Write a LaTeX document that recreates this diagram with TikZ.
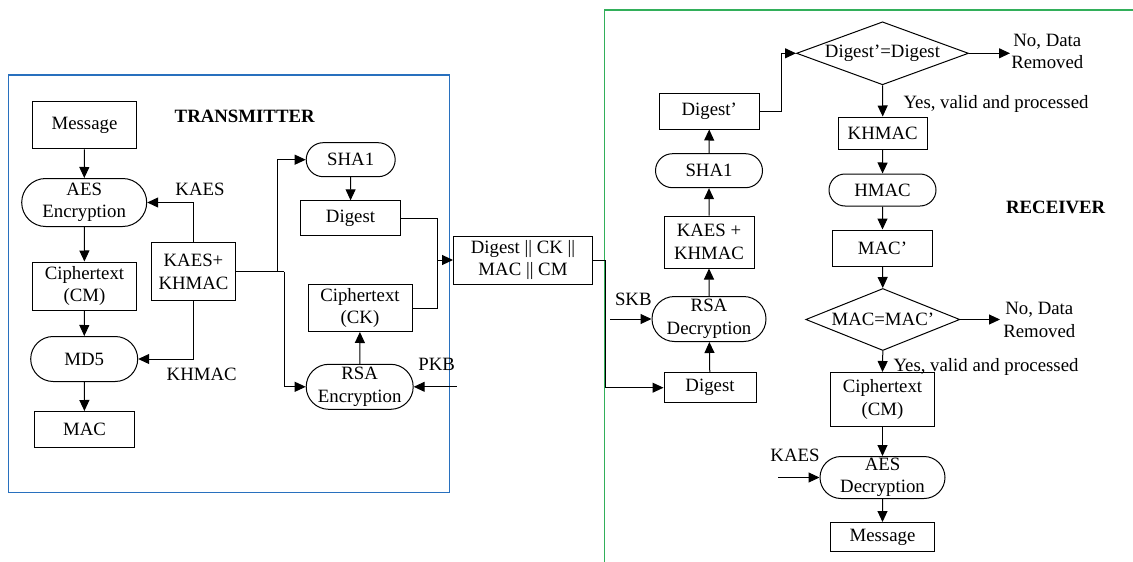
\documentclass[tikz,border=0pt]{standalone}
\usepackage{fontspec}
\setmainfont{Liberation Serif}
\usetikzlibrary{arrows.meta,shapes.misc,shapes.geometric}
\definecolor{txblue}{RGB}{40,112,190}
\definecolor{rxgreen}{RGB}{50,175,90}
\begin{document}
\begin{tikzpicture}[x=1pt,y=-1pt,
  every node/.style={font=\fontsize{18.8}{22.5}\selectfont, inner sep=0pt, align=center},
  boxn/.style={draw, line width=1pt, rectangle, minimum width=#1},
  stad/.style={draw, line width=1pt, rounded rectangle, minimum width=#1},
  dia/.style={draw, line width=1pt, diamond, aspect=2.6},
  arr/.style={line width=1pt, -{Triangle[length=11pt,width=10pt]}},
  ln/.style={line width=1pt}]
\useasboundingbox (0,0) rectangle (1133,562);
% frames
\draw[txblue, line width=1.3pt] (8.3,75) rectangle (449.3,492.7);
\draw[rxgreen, line width=1.3pt] (604.3,562) -- (604.3,10) -- (1133,10);
% transmitter
\node[font=\fontsize{18.8}{22.5}\selectfont\bfseries] (ttl) at (244.7,116.7) {TRANSMITTER};
\node[boxn=104, minimum height=47] (msg) at (84.5,125.3) {Message};
\node[stad=125, minimum height=48] (aes) at (84.2,202.5) {AES\\Encryption};
\node[boxn=104, minimum height=48] (cm) at (84.5,286) {Ciphertext\\(CM)};
\node[stad=107, minimum height=45] (md5) at (84.2,359) {MD5};
\node[boxn=100, minimum height=36] (mac) at (84.5,429.5) {MAC};
\node[boxn=84, minimum height=58] (kk) at (193.5,271.7) {KAES+\\KHMAC};
\node (lkaes) at (200,189.3) {KAES};
\node (lkhmac) at (201.7,374) {KHMAC};
\node[stad=89, minimum height=34] (sha) at (350.7,159.7) {SHA1};
\node[boxn=100, minimum height=35] (dig) at (350.5,218.3) {Digest};
\node[boxn=104, minimum height=47] (ck) at (360,308) {Ciphertext\\(CK)};
\node[stad=107, minimum height=45] (rsae) at (359.7,386.8) {RSA\\Encryption};
\node (lpkb) at (436.7,364) {PKB};
\node[boxn=139, minimum height=48] (comb) at (523,260) {Digest || CK ||\\MAC || CM};
\coordinate (j1) at (277.3,0);
\coordinate (j2) at (284,0);
\coordinate (jm) at (437.7,260);
\coordinate (pkb) at (456.7,386.8);
\draw[arr] (msg) -- (aes);
\draw[arr] (aes) -- (cm);
\draw[arr] (cm) -- (md5);
\draw[arr] (md5) -- (mac);
\draw[arr] (kk.north) |- (aes.east);
\draw[arr] (kk.south) |- (md5.east);
\draw[ln] (kk.east) -- (kk.east -| j2);
\draw[arr] (kk.east -| j1) |- (sha.west);
\draw[arr] (kk.east -| j2) |- (rsae.west);
\draw[arr] (sha) -- (dig);
\draw[arr] (rsae) -- (ck);
\draw[ln] (dig.east) -| (ck.east -| jm) -- (ck.east);
\draw[arr] (jm) -- (comb.west);
\draw[arr] (pkb) -- (rsae.east);
% receiver
\node[font=\fontsize{18.8}{22.5}\selectfont\bfseries] (rttl) at (1055.7,207.7) {RECEIVER};
\node[boxn=92, minimum height=30] (digr) at (710,387.7) {Digest};
\node[stad=114, minimum height=45] (rsad) at (709,319) {RSA\\Decryption};
\node (lskb) at (633.3,299) {SKB};
\node[boxn=90, minimum height=52] (kkr) at (709,242) {KAES +\\KHMAC};
\node[stad=107, minimum height=34] (shar) at (709,170.7) {SHA1};
\node[boxn=100, minimum height=36] (digp) at (709.3,111) {Digest’};
\node[dia, minimum width=172, minimum height=63] (d1) at (882.5,53.3) {Digest’=Digest};
\node (no1) at (1047.3,51.3) {No, Data\\Removed};
\node[anchor=west] (yes1) at (903.3,104) {Yes, valid and processed};
\node[boxn=89, minimum height=32] (khm) at (882.7,133) {KHMAC};
\node[stad=107, minimum height=32] (hmac) at (882.5,190) {HMAC};
\node[boxn=100, minimum height=36] (macp) at (882.5,248) {MAC’};
\node[dia, minimum width=154, minimum height=62] (d2) at (882.8,319.5) {MAC=MAC’};
\node (no2) at (1039.3,320) {No, Data\\Removed};
\node[anchor=west] (yes2) at (893.3,366.7) {Yes, valid and processed};
\node[boxn=104, minimum height=54] (ctr) at (882.5,399.5) {Ciphertext\\(CM)};
\node[stad=125, minimum height=42] (aesd) at (882.5,477.5) {AES\\Decryption};
\node (lkaesr) at (795,455) {KAES};
\node[boxn=104, minimum height=29] (msgr) at (882.5,537) {Message};
\coordinate (jr) at (605.7,0);
\coordinate (skb) at (610,319);
\coordinate (jd) at (781.7,0);
\coordinate (n1) at (1010,53.3);
\coordinate (n2) at (1000,319.5);
\coordinate (kin) at (778.3,477.5);
\draw[arr] (comb.east) -- (comb.east -| jr) |- (digr.west);
\draw[arr] (skb) -- (rsad.west);
\draw[arr] (digr) -- (rsad);
\draw[arr] (rsad) -- (kkr);
\draw[arr] (kkr) -- (shar);
\draw[arr] (shar) -- (digp);
\draw[arr] (digp.east) -- (digp.east -| jd) |- (d1.west);
\draw[arr] (d1.east) -- (n1);
\draw[arr] (d1.south) -- (khm.north);
\draw[arr] (khm) -- (hmac);
\draw[arr] (hmac) -- (macp);
\draw[arr] (macp.south) -- (d2.north);
\draw[arr] (d2.east) -- (n2);
\draw[arr] (d2.south) -- (ctr.north);
\draw[arr] (ctr) -- (aesd);
\draw[arr] (aesd) -- (msgr);
\draw[arr] (kin) -- (aesd.west);
\end{tikzpicture}
\end{document}
